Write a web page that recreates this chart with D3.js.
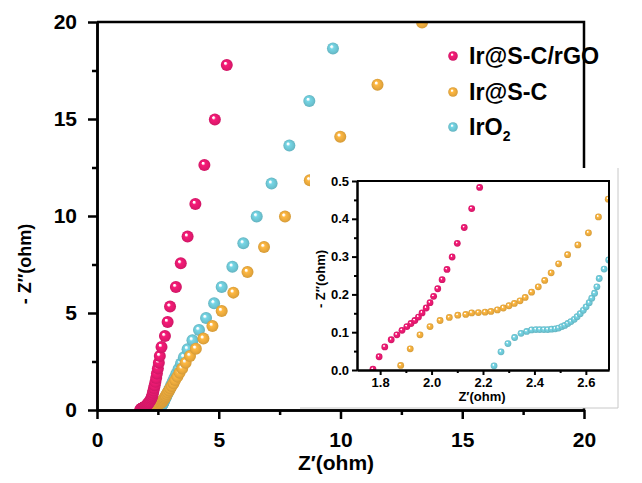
<!DOCTYPE html>
<html>
<head>
<meta charset="utf-8">
<script src="https://cdn.jsdelivr.net/npm/d3@7"></script>
<style>
  body { margin: 0; background: #fff; }
  svg { display: block; font-family: Arial, "Liberation Sans", sans-serif; }
</style>
</head>
<body>
<svg id="chart"></svg>
<script>
var width = 642;
var height = 483;

// Z' , -Z'' readings (ohm)
var rgoData = [[1.772,0.002],[1.796,0.035],[1.818,0.061],[1.843,0.080],[1.865,0.093],[1.885,0.105],[1.904,0.115],[1.920,0.123],[1.935,0.131],[1.949,0.140],[1.963,0.151],[1.979,0.164],[1.994,0.178],[2.008,0.195],[2.024,0.215],[2.041,0.239],[2.060,0.266],[2.080,0.299],[2.100,0.335],[2.127,0.377],[2.156,0.427],[2.187,0.483],
  [2.215,0.55],[2.24,0.62],[2.26,0.70],[2.28,0.79],[2.30,0.89],[2.32,1.00],[2.345,1.13],[2.37,1.28],[2.40,1.45],[2.43,1.65],[2.46,1.88],[2.50,2.14],[2.54,2.44],[2.58,2.78],[2.65,3.25],[2.79,3.81],[2.90,4.54],[3.00,5.33],[3.24,6.34],[3.44,7.56],[3.72,8.94],[4.04,10.62],[4.41,12.63],[4.84,14.98],[5.33,17.78]];

var scData = [[1.880,0.012],[1.917,0.056],[1.955,0.093],[1.994,0.115],[2.033,0.131],[2.069,0.139],[2.102,0.145],[2.133,0.147],[2.156,0.151],[2.182,0.152],[2.208,0.153],[2.231,0.155],[2.256,0.159],[2.279,0.164],[2.301,0.170],[2.322,0.176],[2.344,0.183],[2.364,0.192],[2.389,0.206],[2.415,0.220],[2.440,0.237],[2.465,0.257],[2.494,0.281],[2.529,0.305],[2.569,0.331],[2.610,0.363],[2.649,0.405],[2.687,0.452],
  [2.71,0.50],[2.74,0.55],[2.77,0.61],[2.80,0.67],[2.83,0.74],[2.87,0.82],[2.91,0.91],[2.96,1.01],[3.01,1.12],[3.07,1.24],[3.14,1.38],[3.21,1.54],[3.30,1.72],[3.39,1.92],[3.50,2.14],[3.64,2.44],[3.82,2.78],[4.06,3.16],[4.37,3.68],[4.74,4.33],[5.12,5.10],[5.60,6.05],[6.18,7.11],[6.86,8.40],[7.72,9.97],[8.74,11.84],[9.99,14.09],[11.52,16.77],[13.35,19.97]];

var iro2Data = [[2.243,0.011],[2.270,0.048],[2.297,0.070],[2.323,0.086],[2.348,0.097],[2.370,0.102],[2.389,0.106],[2.406,0.107],[2.421,0.107],[2.437,0.107],[2.452,0.107],[2.467,0.108],[2.481,0.109],[2.494,0.111],[2.507,0.115],[2.518,0.118],[2.530,0.123],[2.542,0.128],[2.555,0.134],[2.566,0.141],[2.578,0.149],[2.590,0.158],[2.601,0.167],[2.613,0.178],[2.623,0.190],[2.634,0.203],[2.643,0.220],[2.652,0.242],[2.671,0.267],[2.689,0.291],
  [2.70,0.32],[2.71,0.355],[2.73,0.395],[2.74,0.44],[2.76,0.49],[2.78,0.55],[2.81,0.62],[2.84,0.70],[2.87,0.79],[2.91,0.89],[2.95,1.01],[3.00,1.14],[3.05,1.29],[3.11,1.46],[3.18,1.65],[3.26,1.87],[3.35,2.12],[3.45,2.40],[3.57,2.72],[3.72,3.13],[3.92,3.59],[4.19,4.12],[4.48,4.74],[4.81,5.50],[5.12,6.34],[5.56,7.39],[6.01,8.59],[6.56,9.98],[7.17,11.67],[7.90,13.63],[8.72,15.93],[9.69,18.64]];

var seriesNames = ['Ir@S-C/rGO', 'Ir@S-C', 'IrO2'];
var seriesColors = ['#e2196e', '#e8a83c', '#6cc4d2'];

var mainTicks = [0, 5, 10, 15, 20];
var mainMinor = [2.5, 7.5, 12.5, 17.5];
var insetXTicks = [1.8, 2.0, 2.2, 2.4, 2.6];
var insetXMinor = [1.9, 2.1, 2.3, 2.5];
var insetYTicks = [0, 0.1, 0.2, 0.3, 0.4, 0.5];
var insetYMinor = [0.05, 0.15, 0.25, 0.35, 0.45];

var series = [
  {name: seriesNames[2], color: seriesColors[2], data: iro2Data, id: 'g2'},
  {name: seriesNames[1], color: seriesColors[1], data: scData, id: 'g1'},
  {name: seriesNames[0], color: seriesColors[0], data: rgoData, id: 'g0'}
];

var svg = d3.select('#chart')
    .attr('width', width)
    .attr('height', height);

var defs = svg.append('defs');
series.forEach(function(s) {
  var c = d3.color(s.color);
  var g = defs.append('radialGradient')
      .attr('id', s.id)
      .attr('cx', 0.5).attr('cy', 0.5).attr('r', 0.5)
      .attr('fx', 0.36).attr('fy', 0.32);
  g.append('stop').attr('offset', 0).attr('stop-color', '#ffffff');
  g.append('stop').attr('offset', 0.14).attr('stop-color', '#ffffff').attr('stop-opacity', 0.9);
  g.append('stop').attr('offset', 0.34).attr('stop-color', c.brighter(0.25));
  g.append('stop').attr('offset', 0.75).attr('stop-color', c);
  g.append('stop').attr('offset', 1).attr('stop-color', c.darker(0.25));
});

// ---------- main plot ----------
var x = d3.scaleLinear().domain([0, 20]).range([97, 584]);
var y = d3.scaleLinear().domain([0, 20]).range([410, 22]);

defs.append('clipPath').attr('id', 'mainClip')
  .append('rect')
    .attr('x', 97).attr('y', 22)
    .attr('width', 584 - 97).attr('height', 410 - 22);

function styleAxis(g, size, lw) {
  g.select('.domain').attr('stroke', '#000').attr('stroke-width', lw);
  g.selectAll('.tick line').attr('stroke', '#000').attr('stroke-width', lw);
  g.selectAll('.tick text')
    .attr('fill', '#000')
    .style('font-size', size + 'px')
    .style('font-weight', 'bold');
}

var mainPts = svg.append('g').attr('clip-path', 'url(#mainClip)');
series.forEach(function(s) {
  mainPts.append('g')
    .selectAll('circle')
    .data(s.data)
    .enter()
  .append('circle')
    .attr('cx', d => x(d[0]))
    .attr('cy', d => y(d[1]))
    .attr('r', 6)
    .attr('fill', 'url(#' + s.id + ')');
});

// frame
svg.append('path')
  .attr('d', 'M' + x(0) + ',' + y(20) + 'H' + x(20) + 'V' + y(0))
  .attr('fill', 'none').attr('stroke', '#000').attr('stroke-width', 2.5);

svg.append('g')
  .attr('transform', 'translate(0,' + y(0) + ')')
  .call(d3.axisBottom(x).tickValues(mainMinor).tickSize(5).tickFormat('').tickSizeOuter(0))
  .call(g => styleAxis(g, 21, 2.5));
svg.append('g')
  .attr('transform', 'translate(' + x(0) + ',0)')
  .call(d3.axisLeft(y).tickValues(mainMinor).tickSize(5).tickFormat('').tickSizeOuter(0))
  .call(g => styleAxis(g, 21, 2.5));
svg.append('g')
  .attr('transform', 'translate(0,' + y(0) + ')')
  .call(d3.axisBottom(x).tickValues(mainTicks).tickSize(9).tickPadding(13).tickSizeOuter(0).tickFormat(d3.format('d')))
  .call(g => styleAxis(g, 21, 2.5));
svg.append('g')
  .attr('transform', 'translate(' + x(0) + ',0)')
  .call(d3.axisLeft(y).tickValues(mainTicks).tickSize(9).tickPadding(11).tickSizeOuter(0).tickFormat(d3.format('d')))
  .call(g => styleAxis(g, 21, 2.5));

svg.append('text')
  .attr('x', 336)
  .attr('y', 470)
  .style('text-anchor', 'middle')
  .style('font-size', '21px')
  .style('font-weight', 'bold')
  .text('Z\u2032(ohm)');

svg.append('text')
  .attr('transform', 'rotate(-90)')
  .attr('x', -264)
  .attr('y', 31)
  .style('text-anchor', 'middle')
  .style('font-size', '18px')
  .style('font-weight', 'bold')
  .text('- Z\u2033(ohm)');

// legend
var legend = svg.append('g');
var legendRows = [
  {name: seriesNames[0], id: 'g0', y: 56},
  {name: seriesNames[1], id: 'g1', y: 92},
  {name: seriesNames[2], id: 'g2', y: 127}
];
legendRows.forEach(function(r) {
  legend.append('circle')
    .attr('cx', 453).attr('cy', r.y).attr('r', 4.8)
    .attr('fill', 'url(#' + r.id + ')');
  var t = legend.append('text')
    .attr('x', 469).attr('y', r.y + 8)
    .style('font-size', '23.3px')
    .style('font-weight', 'bold');
  if (r.name === 'IrO2') {
    t.append('tspan').text('IrO');
    t.append('tspan').attr('dy', 6).style('font-size', '14px').text('2');
  } else {
    t.text(r.name);
  }
});

// ---------- inset ----------
var ix = d3.scaleLinear().domain([1.71, 2.69]).range([357, 609]);
var iy = d3.scaleLinear().domain([0, 0.5]).range([370, 181]);

// pasted-inset edge
svg.append('rect')
  .attr('x', 310).attr('y', 168).attr('width', 308).attr('height', 240)
  .attr('fill', '#fff');
svg.append('path')
  .attr('d', 'M300,408H618V168')
  .attr('fill', 'none').attr('stroke', '#c8c8c8').attr('stroke-width', 1);

defs.append('clipPath').attr('id', 'insetClip')
  .append('rect')
    .attr('x', 357).attr('y', 181)
    .attr('width', 609 - 357).attr('height', 370 - 181);

var insetPts = svg.append('g').attr('clip-path', 'url(#insetClip)');
series.forEach(function(s) {
  insetPts.append('g')
    .selectAll('circle')
    .data(s.data)
    .enter()
  .append('circle')
    .attr('cx', d => ix(d[0]))
    .attr('cy', d => iy(d[1]))
    .attr('r', 3.4)
    .attr('fill', 'url(#' + s.id + ')');
});

svg.append('path')
  .attr('d', 'M' + ix(1.71) + ',' + iy(0.5) + 'H' + ix(2.69) + 'V' + iy(0))
  .attr('fill', 'none').attr('stroke', '#000').attr('stroke-width', 2);

svg.append('g')
  .attr('transform', 'translate(0,' + iy(0) + ')')
  .call(d3.axisBottom(ix).tickValues(insetXMinor).tickSize(3).tickFormat('').tickSizeOuter(0))
  .call(g => styleAxis(g, 13, 2));
svg.append('g')
  .attr('transform', 'translate(' + ix(1.71) + ',0)')
  .call(d3.axisLeft(iy).tickValues(insetYMinor).tickSize(3).tickFormat('').tickSizeOuter(0))
  .call(g => styleAxis(g, 13, 2));
svg.append('g')
  .attr('transform', 'translate(0,' + iy(0) + ')')
  .call(d3.axisBottom(ix).tickValues(insetXTicks).tickSize(5).tickPadding(3).tickSizeOuter(0).tickFormat(d3.format('.1f')))
  .call(g => styleAxis(g, 13, 2));
svg.append('g')
  .attr('transform', 'translate(' + ix(1.71) + ',0)')
  .call(d3.axisLeft(iy).tickValues(insetYTicks).tickSize(5).tickPadding(3).tickSizeOuter(0).tickFormat(d3.format('.1f')))
  .call(g => styleAxis(g, 13, 2));

svg.append('text')
  .attr('x', 482)
  .attr('y', 401)
  .style('text-anchor', 'middle')
  .style('font-size', '13px')
  .style('font-weight', 'bold')
  .text('Z\u2032(ohm)');

svg.append('text')
  .attr('transform', 'rotate(-90)')
  .attr('x', -279)
  .attr('y', 325)
  .style('text-anchor', 'middle')
  .style('font-size', '13px')
  .style('font-weight', 'bold')
  .text('- Z\u2033(ohm)');
</script>
</body>
</html>
